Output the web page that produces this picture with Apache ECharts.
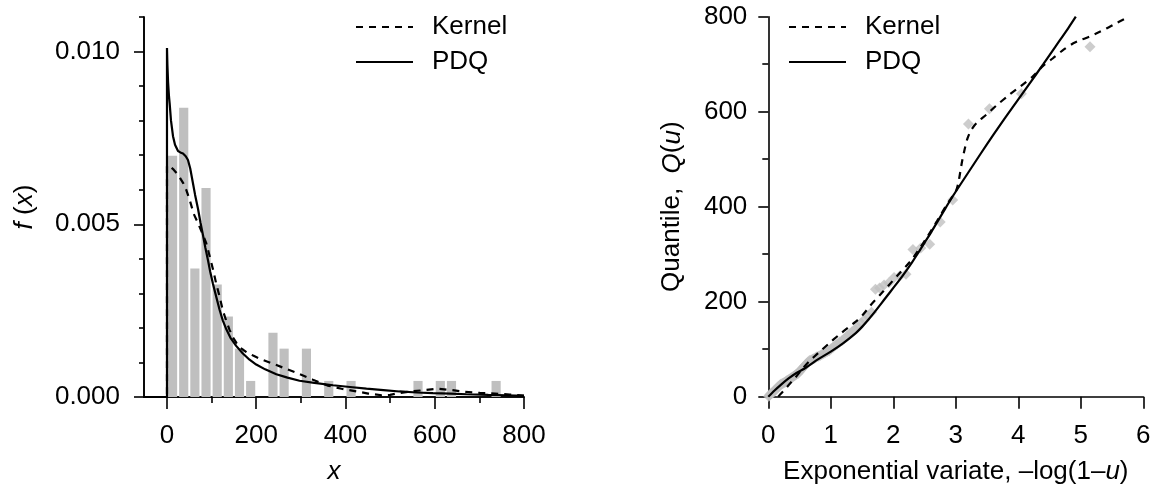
<!DOCTYPE html>
<html><head><meta charset="utf-8">
<script src="https://cdn.jsdelivr.net/npm/echarts@6/dist/echarts.min.js"></script>
<style>html,body{margin:0;padding:0;background:#fff}#c{width:1171px;height:493px}</style>
</head><body><div id="c"></div>
<script>
// ---------- data ----------
const binWidth = 25;
const histLeft = [0,25,50,75,100,125,150,175,225,250,300,350,400,550,600,625,725];
const histDensity = [0.00698,0.00837,0.00372,0.00605,0.00326,0.00233,0.0014,0.000465,0.00186,0.0014,0.0014,0.000465,0.000465,0.000465,0.000465,0.000465,0.000465];

const pdfKernel = [[-52,0],[0,0],[0,0.0067],[7,0.00667],[15,0.00658],[25,0.00643],[36,0.0062],[43,0.006],[51,0.0057],[60,0.0053],[70,0.00502],[81,0.00468],[88,0.00445],[96,0.00406],[103,0.0037],[110,0.0033],[118,0.0029],[125,0.00251],[133,0.0022],[140,0.00195],[148,0.00172],[156,0.00156],[165,0.00142],[178,0.0013],[193,0.0012],[208,0.00111],[230,0.001],[260,0.00085],[290,0.0007],[327,0.0005],[360,0.00033],[391,0.00024],[421,0.00017],[451,0.0001],[481,0.00005],[500,0.00006],[514,0.0001],[545,0.00016],[578,0.0002],[607,0.00024],[638,0.0002],[667,0.00015],[701,0.00012],[735,0.0001],[768,0.00007],[800,0.00004]];
const pdfPDQ = [[-52,0],[0,0],[0,0.0101],[1,0.0096],[2.5,0.0091],[4.5,0.0087],[6,0.0085],[9,0.0080],[13.5,0.00755],[18,0.0073],[24.7,0.00712],[30,0.00708],[35.9,0.00705],[42,0.00697],[47,0.00686],[52,0.00662],[58,0.0062],[63,0.00585],[69.5,0.00545],[75,0.00505],[80.7,0.00468],[86,0.00432],[92,0.00395],[97,0.00362],[103,0.00328],[110,0.00292],[118,0.00252],[125,0.00222],[133,0.00196],[142,0.00172],[155,0.00148],[170,0.00126],[185,0.00108],[200,0.00094],[220,0.0008],[245,0.00066],[270,0.00056],[297,0.00047],[330,0.00041],[372,0.00034],[410,0.00029],[447,0.00024],[485,0.0002],[521,0.00016],[560,0.00013],[596,0.00011],[635,0.0001],[671,0.00008],[720,0.00006],[760,0.00005],[800,0.00003]];

const qqX = [0.006,0.018,0.030,0.042,0.054,0.066,0.079,0.091,0.104,0.117,0.130,0.144,0.157,0.171,0.185,0.199,0.213,0.228,0.242,0.257,0.272,0.288,0.303,0.319,0.335,0.352,0.368,0.385,0.403,0.420,0.438,0.456,0.475,0.494,0.513,0.532,0.552,0.573,0.594,0.615,0.637,0.659,0.682,0.705,0.729,0.753,0.778,0.804,0.830,0.857,0.885,0.913,0.943,0.973,1.004,1.036,1.070,1.104,1.140,1.176,1.215,1.254,1.296,1.339,1.386,1.434,1.484,1.537,1.592,1.651,1.714,1.780,1.852,1.929,2.012,2.103,2.203,2.314,2.439,2.582,2.750,2.950,3.202,3.538,4.049,5.147];
const qqY = [1,3,4,6,7,9,10,12,13,15,17,19,21,22,24,26,27,28,29,30,31,33,34,35,37,38,40,41,43,44,46,48,49,52,55,58,61,64,67,70,73,76,77,79,80,82,84,85,87,89,91,93,95,97,101,104,108,111,115,118,122,127,132,137,142,147,155,162,170,178,226,229,235,240,251,254,258,310,313,321,368,414,574,606,638,737];

const qKernel = [[0.16,0],[0.2,6],[0.25,13],[0.33,25],[0.45,43],[0.55,59],[0.65,74],[0.8,92],[0.97,112],[1.13,130],[1.29,147],[1.4,158],[1.51,172],[1.64,193],[1.8,216],[1.95,238],[2.1,260],[2.26,283],[2.4,308],[2.55,338],[2.7,370],[2.85,403],[2.95,422],[3.0,432],[3.04,450],[3.07,472],[3.1,495],[3.14,520],[3.19,545],[3.25,562],[3.33,576],[3.49,594],[3.65,613],[3.86,636],[4.05,655],[4.23,674],[4.4,697],[4.55,712],[4.7,728],[4.88,744],[5.0,751],[5.14,758],[5.27,766],[5.41,775],[5.55,785],[5.71,796]];
const qPDQ = [[0,0],[0.1,13],[0.2,25],[0.33,39],[0.45,50],[0.6,61],[0.8,79],[1.0,95],[1.2,113],[1.4,134],[1.5,147],[1.6,162],[1.7,178],[1.8,195],[1.9,212],[2.0,229],[2.1,246],[2.2,264],[2.3,283],[2.4,303],[2.5,324],[2.6,345],[2.7,367],[2.8,389],[2.9,411],[3.0,432],[3.2,472],[3.4,512],[3.6,551],[3.8,589],[4.0,626],[4.2,663],[4.4,700],[4.6,738],[4.8,776],[4.92,800]];

const leftXTicks = [0,200,400,600,800];
const leftXMinor = [100,300,500,700];
const leftYTicks = [0,0.005,0.010];
const leftYMinor = [0.001,0.002,0.003,0.004,0.006,0.007,0.008,0.009,0.011];
const legendNames = ['Kernel','PDQ'];

// ---------- chart ----------
const FONT = 'Liberation Sans, Arial, Helvetica, sans-serif';
const black = '#000';
const axisLine = {show:true, onZero:false, lineStyle:{color:black, width:1.6}};
const tickStyle = {color:black, width:1.6};
const labelStyle = {color:black, fontSize:26, fontFamily:FONT};
const nameStyle = {color:black, fontSize:26, fontFamily:FONT,
  rich:{i:{fontStyle:'italic', fontSize:26, fontFamily:FONT, color:black}}};
const dashed = {color:black, width:2.2, type:[7,6]};
const solid = {color:black, width:2.2, type:'solid'};

const chart = echarts.init(document.getElementById('c'), null, {renderer:'canvas'});
const legendBase = {orient:'vertical', itemWidth:57, itemHeight:14, itemGap:9, data:legendNames, selectedMode:false,
  itemStyle:{opacity:0, borderWidth:0},
  textStyle:{color:black, fontSize:26, fontFamily:FONT, lineHeight:26, padding:[0,0,0,14]}};

chart.setOption({
  animation:false,
  backgroundColor:'#fff',
  grid:[
    {left:144, top:17, width:380, height:380, containLabel:false, outerBoundsMode:'none'},
    {left:768.3, top:16.7, width:375, height:380, containLabel:false, outerBoundsMode:'none'}
  ],
  legend:[Object.assign({left:350, top:9}, legendBase), Object.assign({left:783, top:9}, legendBase)],
  xAxis:[
    {type:'value', gridIndex:0, position:'bottom', min:-51.5, max:800, axisLine:axisLine,
     axisTick:{show:true, customValues:leftXTicks, length:12, lineStyle:tickStyle},
     axisLabel:Object.assign({customValues:leftXTicks, margin:26}, labelStyle),
     splitLine:{show:false}, name:'{i|x}', nameLocation:'middle', nameGap:62, nameTextStyle:nameStyle},
    {type:'value', gridIndex:0, position:'bottom', min:-51.5, max:800,
     axisLine:{show:true, onZero:false, lineStyle:{color:black, width:1.6}},
     axisTick:{show:true, customValues:leftXMinor, length:6, lineStyle:tickStyle},
     axisLabel:{show:false}, splitLine:{show:false}},
    {type:'value', gridIndex:1, position:'bottom', min:0, max:6, interval:1, axisLine:axisLine,
     axisTick:{show:true, length:12, lineStyle:tickStyle},
     axisLabel:Object.assign({margin:26}, labelStyle),
     splitLine:{show:false}, name:'Exponential variate, \u2013log(1\u2013{i|u})', nameLocation:'middle', nameGap:62, nameTextStyle:nameStyle}
  ],
  yAxis:[
    {type:'value', gridIndex:0, position:'left', min:0, max:0.011, axisLine:axisLine,
     axisTick:{show:true, customValues:leftYTicks, length:10, lineStyle:tickStyle},
     axisLabel:Object.assign({customValues:leftYTicks, margin:24, formatter:v=>v.toFixed(3)}, labelStyle),
     splitLine:{show:false}, name:'{i|f} ({i|x})', nameLocation:'middle', nameGap:106, nameRotate:90, nameTextStyle:nameStyle},
    {type:'value', gridIndex:0, position:'left', min:0, max:0.011,
     axisLine:{show:true, onZero:false, lineStyle:{color:black, width:1.6}},
     axisTick:{show:true, customValues:leftYMinor, length:5, lineStyle:tickStyle},
     axisLabel:{show:false}, splitLine:{show:false}},
    {type:'value', gridIndex:1, position:'left', min:0, max:800, interval:200, axisLine:axisLine,
     axisTick:{show:true, length:10, lineStyle:tickStyle},
     minorTick:{show:true, splitNumber:2, length:6, lineStyle:tickStyle},
     axisLabel:Object.assign({margin:21}, labelStyle),
     splitLine:{show:false}, minorSplitLine:{show:false},
     name:'Quantile,  {i|Q}({i|u})', nameLocation:'middle', nameGap:83, nameRotate:90, nameTextStyle:nameStyle}
  ],
  series:[
    {type:'custom', name:'Histogram', xAxisIndex:0, yAxisIndex:0, z:1,
     data:histLeft.map((l,i)=>[l, l+binWidth, histDensity[i]]),
     encode:{x:[0,1], y:2},
     renderItem:function(params, api){
       const p0 = api.coord([api.value(0), api.value(2)]);
       const p1 = api.coord([api.value(1), 0]);
       return {type:'rect', shape:{x:p0[0]+1, y:p0[1], width:p1[0]-p0[0]-2, height:p1[1]-p0[1]}, style:{fill:'#bfbfbf'}};
     }},
    {type:'line', name:'Kernel', xAxisIndex:0, yAxisIndex:0, data:pdfKernel, symbol:'none', color:black, lineStyle:dashed, z:3},
    {type:'line', name:'PDQ', xAxisIndex:0, yAxisIndex:0, data:pdfPDQ, symbol:'none', color:black, lineStyle:solid, z:3},
    {type:'scatter', name:'Data', xAxisIndex:2, yAxisIndex:2, data:qqX.map((x,i)=>[x, qqY[i]]), symbol:'diamond', symbolSize:11,
     itemStyle:{color:'#c0c0c0'}, z:2},
    {type:'line', name:'Kernel', xAxisIndex:2, yAxisIndex:2, data:qKernel, symbol:'none', color:black, lineStyle:dashed, smooth:0.3, z:3},
    {type:'line', name:'PDQ', xAxisIndex:2, yAxisIndex:2, data:qPDQ, symbol:'none', color:black, lineStyle:solid, smooth:0.3, z:3}
  ]
});
</script>
</body></html>
